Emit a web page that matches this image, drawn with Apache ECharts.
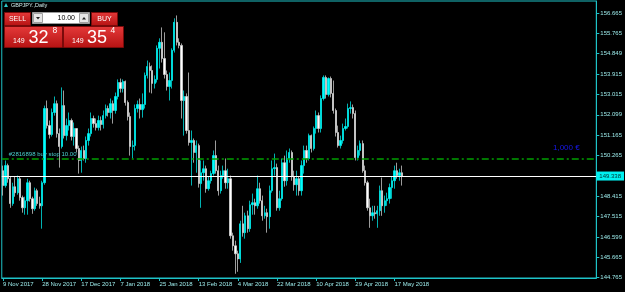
<!DOCTYPE html>
<html><head><meta charset="utf-8">
<script src="https://cdn.jsdelivr.net/npm/echarts@6.0.0/dist/echarts.min.js"></script>
<style>html,body{margin:0;padding:0;background:#000;}#c{width:625px;height:292px;}</style>
</head><body><div id="c"></div>
<script>
const symbolTitle = 'GBPJPY.,Daily';
const startDate = '2017-11-09';
const holidays = ['2017-12-25', '2018-01-01'];
const totalSlots = 243;
const dateTickEvery = 16;
const yTickValues = [156.665, 155.765, 154.849, 153.915, 153.015, 152.099, 151.165, 150.265, 148.415, 147.515, 146.599, 145.665, 144.765];
const bidPrice = 149.338;
const buyStopPrice = 150.11;
const buyStopLabel = '#2816898 buy stop 10.00';
const profitLabel = '1,000 €';
const lotText = '10.00';
const sellQuote = ['149', '32', '8'];
const buyQuote = ['149', '35', '4'];

const opens = [149.58,148.91,149.81,149.22,148.10,148.86,148.59,149.22,148.37,147.91,
148.23,149.04,148.32,147.87,148.68,148.10,148.00,149.04,152.38,151.61,
151.21,152.20,152.60,151.25,150.67,152.51,151.16,151.61,151.84,151.12,
151.48,150.58,150.04,150.49,150.13,150.94,151.25,151.93,151.70,151.52,
151.84,151.66,152.06,152.38,152.20,152.60,152.29,152.92,153.55,153.28,
153.60,152.65,152.02,150.67,150.71,152.38,152.56,152.33,152.56,153.87,
154.27,154.09,153.51,153.69,155.09,155.36,154.63,153.91,153.37,153.64,
155.00,156.26,155.36,155.22,152.74,152.92,151.39,150.85,150.94,150.40,
150.71,149.00,149.49,149.67,148.77,149.13,149.45,150.26,149.58,148.68,
149.36,149.58,149.04,149.22,146.65,146.20,145.84,145.61,147.19,146.79,
147.55,146.97,148.05,148.14,148.00,148.77,148.23,147.55,147.69,147.51,
148.68,149.67,149.72,147.91,148.32,149.94,149.13,150.13,150.40,149.31,
148.95,149.22,148.68,149.81,150.49,150.13,151.16,150.58,151.48,152.06,
151.48,152.83,153.78,153.01,153.73,153.06,152.29,151.30,150.71,150.94,
151.48,151.57,152.38,152.42,152.15,150.17,150.49,150.80,149.58,149.04,
147.91,147.55,147.69,147.64,147.78,148.68,148.00,148.23,148.32,148.82,
149.13,149.58,149.36,149.49];

const closes = [148.91,149.81,149.22,148.10,148.86,148.59,149.22,148.37,147.91,148.23,
149.04,148.32,147.87,148.68,148.10,148.00,149.04,152.38,151.61,151.21,
152.20,152.60,151.25,150.67,152.51,151.16,151.61,151.84,151.12,151.48,
150.58,150.04,150.49,150.13,150.94,151.25,151.93,151.70,151.52,151.84,
151.66,152.06,152.38,152.20,152.60,152.29,152.92,153.55,153.28,153.60,
152.65,152.02,150.67,150.71,152.38,152.56,152.33,152.56,153.87,154.27,
154.09,153.51,153.69,155.09,155.36,154.63,153.91,153.37,153.64,155.00,
156.26,155.36,155.22,152.74,152.92,151.39,150.85,150.94,150.40,150.71,
149.00,149.49,149.67,148.77,149.13,149.45,150.26,149.58,148.68,149.36,
149.58,149.04,149.22,146.65,146.20,145.84,145.61,147.19,146.79,147.55,
146.97,148.05,148.14,148.00,148.77,148.23,147.55,147.69,147.51,148.68,
149.67,149.72,147.91,148.32,149.94,149.13,150.13,150.40,149.31,148.95,
149.22,148.68,149.81,150.49,150.13,151.16,150.58,151.48,152.06,151.48,
152.83,153.78,153.01,153.73,153.06,152.29,151.30,150.71,150.94,151.48,
151.57,152.38,152.42,152.15,150.17,150.49,150.80,149.58,149.04,147.91,
147.55,147.69,147.64,147.78,148.68,148.00,148.23,148.32,148.82,149.13,
149.58,149.36,149.49,149.338];

const highs = [149.81,150.04,149.90,149.31,149.04,149.31,149.36,149.31,148.46,148.41,
149.22,149.13,148.41,148.82,148.77,148.41,149.13,152.51,152.74,151.84,
152.38,152.92,152.74,151.48,153.33,153.19,151.93,152.20,151.93,151.75,
151.48,150.71,150.67,150.71,151.12,151.48,152.20,152.06,151.93,152.06,
152.02,152.29,152.56,152.51,152.83,152.74,153.10,153.69,153.73,153.69,
153.64,152.74,152.20,150.94,152.56,152.74,152.83,153.06,154.00,154.54,
154.45,154.32,153.87,155.22,155.54,156.03,155.81,154.09,154.00,155.09,
156.44,156.57,155.54,155.31,153.19,153.06,154.00,151.39,151.03,150.94,
150.80,150.04,150.04,149.81,149.31,149.58,150.49,150.94,149.81,149.58,
149.81,150.13,149.67,149.36,146.79,146.43,145.98,147.33,148.00,147.69,
147.78,148.23,148.55,148.32,149.36,149.04,148.46,148.00,147.87,148.91,
150.04,150.35,149.90,148.68,150.13,150.26,150.49,150.58,150.49,149.58,
149.58,149.31,150.04,150.71,150.71,151.25,151.21,151.57,152.29,152.20,
152.97,153.87,153.87,153.78,153.82,153.64,152.38,151.61,151.16,151.70,
151.93,152.60,152.70,152.56,152.29,150.71,150.94,150.94,149.81,149.13,
148.32,148.00,148.00,148.00,148.91,149.27,148.46,148.59,149.00,149.31,
149.81,149.94,149.67,149.81];

const lows = [148.46,148.82,149.04,147.91,148.00,148.41,148.50,148.23,147.69,147.60,
147.60,148.19,147.64,147.78,148.00,147.87,146.97,148.95,151.48,151.03,
151.12,152.06,151.07,149.72,150.58,151.03,150.94,151.39,150.94,150.71,
150.40,149.45,149.49,150.04,149.94,150.71,151.12,151.52,151.39,151.39,
151.39,151.48,151.93,152.02,151.93,151.70,152.15,152.79,153.10,153.10,
152.51,151.84,150.26,150.13,150.49,152.20,151.93,151.97,152.38,153.73,
153.10,153.06,153.28,153.55,154.18,154.45,153.73,153.19,152.74,153.28,
154.90,155.22,155.09,151.93,151.16,151.25,150.71,148.91,149.94,149.49,
148.82,147.91,149.13,148.59,148.68,149.00,149.36,149.45,148.46,148.55,
149.22,148.77,148.77,146.52,145.98,144.94,145.03,145.43,146.61,146.52,
146.79,146.83,147.60,147.60,147.87,148.10,147.33,147.42,146.79,146.97,
148.59,149.36,147.78,147.78,148.23,148.86,148.91,149.94,149.13,148.68,
148.46,148.46,148.46,149.45,149.94,150.04,150.40,150.49,151.25,151.30,
151.30,152.74,152.83,152.92,152.88,152.15,151.12,150.62,150.58,150.80,
151.39,151.48,152.15,151.93,150.04,150.04,150.26,149.49,148.91,147.78,
147.01,147.33,147.42,147.01,147.55,147.55,147.69,148.00,148.10,148.32,
148.77,149.22,149.13,148.91];

const MON = ['Jan','Feb','Mar','Apr','May','Jun','Jul','Aug','Sep','Oct','Nov','Dec'];
function buildDates() {
  const out = [];
  const d = new Date(startDate + 'T00:00:00Z');
  while (out.length < totalSlots) {
    const iso = d.toISOString().slice(0, 10);
    if (d.getUTCDay() !== 6 && holidays.indexOf(iso) < 0) {
      out.push(d.getUTCDate() + ' ' + MON[d.getUTCMonth()] + ' ' + d.getUTCFullYear());
    }
    d.setUTCDate(d.getUTCDate() + 1);
  }
  return out;
}
const dates = buildDates();
const candles = opens.map((o, i) => [o, closes[i], lows[i], highs[i]]);

const FRAME = '#1ec3c8';
const TXT = '#9ae8e8';
const FONT = 'Liberation Sans, Arial, sans-serif';
const showTick = (i) => i % dateTickEvery === 0 && i < closes.length;

const redFill = new echarts.graphic.LinearGradient(0, 0, 0, 1, [
  { offset: 0, color: '#e53a3a' }, { offset: 1, color: '#b51212' }]);

function btn(x, y, w, h) {
  return { type: 'rect', shape: { x, y, width: w, height: h }, style: { fill: redFill, stroke: '#7a0a0a', lineWidth: 1 }, z: 100 };
}
function txt(x, y, t, size, color, align, vAlign) {
  return { type: 'text', x, y, style: { text: t, fill: color, font: size + 'px ' + FONT, align: align || 'left', verticalAlign: vAlign || 'middle' }, z: 101 };
}

const chart = echarts.init(document.getElementById('c'));
chart.setOption({
  backgroundColor: '#000',
  animation: false,
  grid: { left: 1, right: 27, top: 1, bottom: 14, show: true, borderColor: FRAME, borderWidth: 1, backgroundColor: '#000' },
  xAxis: {
    type: 'category', data: dates, boundaryGap: true,
    axisLine: { show: true, lineStyle: { color: FRAME } },
    axisTick: { show: true, alignWithLabel: true, interval: showTick, length: 3, lineStyle: { color: FRAME } },
    axisLabel: { interval: showTick, align: 'left', color: TXT, fontSize: 6, margin: 3, fontFamily: FONT },
    splitLine: { show: false }
  },
  yAxis: {
    type: 'value', position: 'right', min: 144.75, max: 157.22,
    axisLine: { show: true, lineStyle: { color: FRAME } },
    axisTick: { show: true, customValues: yTickValues, length: 3, lineStyle: { color: FRAME } },
    axisLabel: { customValues: yTickValues, formatter: (v) => v.toFixed(3), color: TXT, fontSize: 6, margin: 4, fontFamily: FONT },
    splitLine: { show: false }
  },
  series: [{
    type: 'candlestick', data: candles, barWidth: 1.8, z: 3,
    itemStyle: { color: '#00ffff', color0: '#ffffff', borderColor: '#00ffff', borderColor0: '#e0e0e0', borderWidth: 0.7 }
  }, {
    type: 'line', data: [], z: 2, silent: true,
    markLine: {
      silent: true, symbol: 'none', animation: false,
      emphasis: { disabled: true },
      data: [
        { yAxis: buyStopPrice, lineStyle: { color: '#00a000', type: [7, 3, 2, 3], width: 1.5, opacity: 1 },
          label: { show: true, position: 'insideStartTop', distance: 2, padding: [0, 0, 0, 5], formatter: buyStopLabel, color: '#4ad0d0', fontSize: 6, fontFamily: FONT } },
        { yAxis: bidPrice, lineStyle: { color: '#ffffff', type: 'solid', width: 1, opacity: 1 },
          label: { show: true, position: 'end', distance: 0, formatter: bidPrice.toFixed(3), backgroundColor: '#00f0f0', color: '#003030', fontSize: 6, fontFamily: FONT, padding: [2, 3, 1, 3] } }
      ]
    }
  }],
  graphic: [
    { type: 'polygon', shape: { points: [[4, 7], [8, 7], [6, 3]] }, style: { fill: '#30c8c8' }, z: 101 },
    txt(11, 5.5, symbolTitle, 5.5, '#cfeeee'),
    btn(4.5, 12.5, 26, 13), txt(17.5, 19, 'SELL', 7, '#fff', 'center'),
    { type: 'rect', shape: { x: 32.5, y: 12.5, width: 57, height: 11 }, style: { fill: '#ffffff', stroke: '#9a9a9a', lineWidth: 1 }, z: 100 },
    { type: 'rect', shape: { x: 33.5, y: 13.5, width: 9, height: 9 }, style: { fill: '#e6e6e6', stroke: '#a0a0a0', lineWidth: 1 }, z: 101 },
    { type: 'polygon', shape: { points: [[36, 17], [40, 17], [38, 19.5]] }, style: { fill: '#222' }, z: 102 },
    txt(75, 18.5, lotText, 7, '#000', 'right'),
    { type: 'rect', shape: { x: 79.5, y: 13.5, width: 9, height: 9 }, style: { fill: '#e6e6e6', stroke: '#a0a0a0', lineWidth: 1 }, z: 101 },
    { type: 'polygon', shape: { points: [[82, 19.5], [86, 19.5], [84, 17]] }, style: { fill: '#222' }, z: 102 },
    btn(91.5, 12.5, 26, 13), txt(104.5, 19, 'BUY', 7, '#fff', 'center'),
    btn(4.5, 26.5, 58, 21), btn(63.5, 26.5, 60, 21),
    txt(13, 41.5, sellQuote[0], 7, '#fff'), txt(28.5, 38.5, sellQuote[1], 18, '#fff'), txt(52.5, 30.5, sellQuote[2], 8.5, '#fff'),
    txt(72, 41.5, buyQuote[0], 7, '#fff'), txt(87, 38.5, buyQuote[1], 18, '#fff'), txt(110.5, 30.5, buyQuote[2], 8.5, '#fff'),
    txt(553, 147.5, profitLabel, 8, '#1818ee')
  ]
});
</script>
</body></html>
